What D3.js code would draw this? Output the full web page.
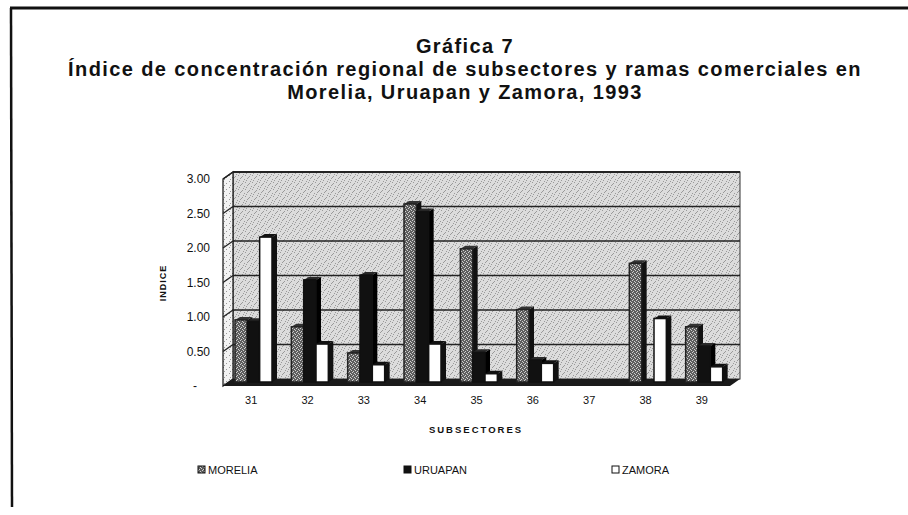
<!DOCTYPE html>
<html>
<head>
<meta charset="utf-8">
<script src="https://cdn.jsdelivr.net/npm/d3@7"></script>
<style>
  body { margin: 0; background: #fff; }
  text { font-family: "Liberation Sans", Arial, sans-serif; fill: #111; }
</style>
</head>
<body>
<svg id="chart" width="908" height="515"></svg>
<script>
// data
const categories = ["31", "32", "33", "34", "35", "36", "37", "38", "39"];
const series = ["MORELIA", "URUAPAN", "ZAMORA"];
const morelia = [0.90, 0.80, 0.42, 2.58, 1.93, 1.05, 0, 1.72, 0.80];
const uruapan = [0.88, 1.48, 1.55, 2.47, 0.43, 0.32, 0, 0, 0.52];
const zamora  = [2.10, 0.55, 0.25, 0.55, 0.12, 0.27, 0, 0.92, 0.22];
const yTicks = [0, 0.5, 1, 1.5, 2, 2.5, 3];
const yTickLabels = ["-", "0.50", "1.00", "1.50", "2.00", "2.50", "3.00"];
const titleLines = [
  "Gráfica 7",
  "Índice de concentración regional de subsectores y ramas comerciales en",
  "Morelia, Uruapan y Zamora, 1993"
];

const values = { MORELIA: morelia, URUAPAN: uruapan, ZAMORA: zamora };

const svg = d3.select("#chart");

// stipple patterns (scanned look)
const defs = svg.append("defs");
function stipple(id, size, bg, dots, fg) {
  const p = defs.append("pattern").attr("id", id)
    .attr("width", size).attr("height", size).attr("patternUnits", "userSpaceOnUse");
  p.append("rect").attr("width", size).attr("height", size).attr("fill", bg);
  dots.forEach(d => p.append("rect").attr("x", d[0]).attr("y", d[1])
    .attr("width", 1).attr("height", 1).attr("fill", fg));
}
stipple("wall", 7, "#dcdcdc", [[0,0],[4,1],[2,3],[6,4],[1,5],[5,6],[3,2]], "#9a9a9a");
stipple("side", 6, "#f2f2f2", [[1,1],[4,3],[2,5]], "#999");
stipple("mor", 4, "#5e5e5e", [[0,0],[2,1],[1,3],[3,2]], "#d0d0d0");

// frame of the figure
svg.append("line").attr("x1", 10).attr("y1", 8).attr("x2", 908).attr("y2", 8)
  .attr("stroke", "#111").attr("stroke-width", 3);
svg.append("line").attr("x1", 11).attr("y1", 8).attr("x2", 12).attr("y2", 507)
  .attr("stroke", "#111").attr("stroke-width", 2.5);

// title
svg.append("g").selectAll("text")
  .data(titleLines)
  .join("text")
    .attr("x", 465)
    .attr("y", (d, i) => 53 + i * 23)
    .attr("text-anchor", "middle")
    .style("font-size", "20px")
    .style("font-weight", "bold")
    .style("letter-spacing", "1.4px")
    .text(d => d);

// scales
const x0 = d3.scaleBand().domain(categories).range([223, 730]);
const x1 = d3.scaleBand().domain(series).range([12, 49]);
const y = d3.scaleLinear().domain([0, 3]).range([386, 179]);
const DX = 10, DY = -7; // depth of the 3d box
const bx = 5, by = -3;  // depth of a bar

const plot = svg.append("g");

// back wall
plot.append("rect")
  .attr("x", 223 + DX).attr("y", y(3) + DY)
  .attr("width", 730 - 223).attr("height", y(0) - y(3))
  .attr("fill", "url(#wall)").attr("stroke", "#333").attr("stroke-width", 1);
plot.append("line")
  .attr("x1", 223 + DX).attr("x2", 730 + DX)
  .attr("y1", y(3) + DY).attr("y2", y(3) + DY)
  .attr("stroke", "#222").attr("stroke-width", 2);

// left wall
plot.append("polygon")
  .attr("points", [[223, y(3)], [223 + DX, y(3) + DY], [223 + DX, y(0) + DY], [223, y(0)]].join(" "))
  .attr("fill", "url(#side)").attr("stroke", "#111").attr("stroke-width", 1.2);

// gridlines on back and side wall
const grid = yTicks.filter(d => d > 0);
plot.append("g").selectAll("line")
  .data(grid)
  .join("line")
    .attr("x1", 223 + DX).attr("x2", 730 + DX)
    .attr("y1", d => y(d) + DY).attr("y2", d => y(d) + DY)
    .attr("stroke", "#222").attr("stroke-width", 1.3);
plot.append("g").selectAll("line")
  .data(grid)
  .join("line")
    .attr("x1", 223).attr("x2", 223 + DX)
    .attr("y1", d => y(d)).attr("y2", d => y(d) + DY)
    .attr("stroke", "#222").attr("stroke-width", 1.3);

// floor
plot.append("polygon")
  .attr("points", [[223, y(0)], [730, y(0)], [730 + DX, y(0) + DY], [223 + DX, y(0) + DY]].join(" "))
  .attr("fill", "#1a1a1a");

// bars
const look = {
  MORELIA: { front: "url(#mor)", side: "#111", top: "#333", stroke: "#222" },
  URUAPAN: { front: "#111", side: "#000", top: "#2a2a2a", stroke: "#111" },
  ZAMORA:  { front: "#fff", side: "#111", top: "#111", stroke: "#111" }
};
const barData = [];
categories.forEach((c, i) => {
  series.forEach(s => {
    if (values[s][i] > 0) barData.push({ cat: c, s: s, v: values[s][i] });
  });
});
const base = y(0) - 4;
const bars = plot.append("g").selectAll("g")
  .data(barData)
  .join("g");
bars.append("polygon") // side face
  .attr("points", d => {
    const xr = x0(d.cat) + x1(d.s) + x1.bandwidth();
    const yt = y(d.v) - 4;
    return [[xr, yt], [xr + bx, yt + by], [xr + bx, base + by], [xr, base]].join(" ");
  })
  .attr("fill", d => look[d.s].side);
bars.append("polygon") // top face
  .attr("points", d => {
    const xl = x0(d.cat) + x1(d.s);
    const xr = xl + x1.bandwidth();
    const yt = y(d.v) - 4;
    return [[xl, yt], [xl + bx, yt + by], [xr + bx, yt + by], [xr, yt]].join(" ");
  })
  .attr("fill", d => look[d.s].top);
bars.append("rect") // front face
  .attr("x", d => x0(d.cat) + x1(d.s))
  .attr("y", d => y(d.v) - 4)
  .attr("width", x1.bandwidth())
  .attr("height", d => base - (y(d.v) - 4))
  .attr("fill", d => look[d.s].front)
  .attr("stroke", d => look[d.s].stroke)
  .attr("stroke-width", 1.5);

// y axis
const yAxis = svg.append("g")
  .attr("transform", "translate(223,0)")
  .call(d3.axisLeft(y).tickValues(yTicks).tickFormat((d, i) => yTickLabels[i]).tickSize(0).tickPadding(13));
yAxis.select(".domain").remove();
yAxis.selectAll("text")
  .style("font-size", "12px").style("font-family", "Liberation Sans, Arial, sans-serif").attr("fill", "#222");
yAxis.selectAll(".tick").filter(d => d === 0).select("text").attr("x", -26);

// x axis
const xAxis = svg.append("g")
  .attr("transform", `translate(0,${y(0)})`)
  .call(d3.axisBottom(x0).tickSize(0).tickPadding(10));
xAxis.select(".domain").remove();
xAxis.selectAll("text")
  .style("font-size", "11px").style("font-family", "Liberation Sans, Arial, sans-serif").attr("fill", "#222");

// axis titles
svg.append("text")
  .attr("transform", "translate(166,283) rotate(-90)")
  .attr("text-anchor", "middle")
  .style("font-size", "9px").style("font-weight", "bold").style("letter-spacing", "1px")
  .text("INDICE");
svg.append("text")
  .attr("x", 476).attr("y", 433)
  .attr("text-anchor", "middle")
  .style("font-size", "9.5px").style("font-weight", "bold").style("letter-spacing", "2px")
  .text("SUBSECTORES");

// legend
const legendX = [198, 404, 612];
const legend = svg.append("g").selectAll("g")
  .data(series)
  .join("g")
    .attr("transform", (d, i) => `translate(${legendX[i]},474)`);
legend.append("rect")
  .attr("x", 0).attr("y", -8).attr("width", 7).attr("height", 7)
  .attr("fill", d => look[d].front)
  .attr("stroke", "#111").attr("stroke-width", 1);
legend.append("text")
  .attr("x", 10).attr("y", 0)
  .style("font-size", "11px")
  .text(d => d);
</script>
</body>
</html>
